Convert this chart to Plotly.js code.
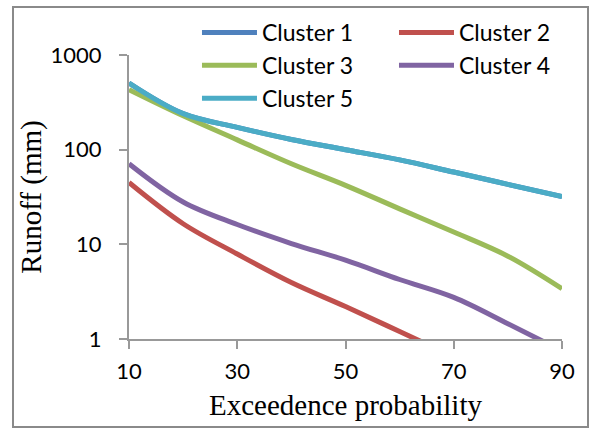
<!DOCTYPE html>
<html>
<head>
<meta charset="utf-8">
<script src="https://cdn.plot.ly/plotly-3.0.1.min.js"></script>
<style>
  html, body { margin: 0; padding: 0; background: #fff; }
  #wrap { position: relative; width: 591px; height: 429px; }
  #chart { position: absolute; left: 0; top: 0; width: 591px; height: 429px; }
  #frame { position: absolute; left: 12px; top: 6px; width: 573px; height: 418px;
           border: 2px solid #8a8a8a; pointer-events: none; }
</style>
</head>
<body>
<div id="wrap"><div id="chart"></div><div id="frame"></div></div>
<script>
// Exceedence probability (%)
const probability = [10, 20, 30, 40, 50, 60, 70, 80, 90];

// Runoff (mm) per cluster
const cluster1 = [505, 240, 172, 128, 100, 78, 58, 43, 32];
const cluster2 = [45, 16.5, 7.9, 3.95, 2.2, 1.2, 0.65];
const cluster3 = [430, 228, 127, 71, 42, 23.7, 13.5, 7.5, 3.4];
const cluster4 = [71, 28, 16.2, 10.2, 6.8, 4.25, 2.75, 1.45, 0.75];
const cluster5 = [505, 240, 172, 128, 100, 78, 58, 43, 32];

const names = ["Cluster 1", "Cluster 2", "Cluster 3", "Cluster 4", "Cluster 5"];
const colors = ["#4F81BD", "#C0504D", "#9BBB59", "#8064A2", "#4BACC6"];
const series = [cluster1, cluster2, cluster3, cluster4, cluster5];
// legend column: odd clusters left, even clusters right
const legendRef = ["legend", "legend2", "legend", "legend2", "legend"];

const traces = series.map((vals, i) => ({
  type: "scatter",
  mode: "lines",
  name: names[i],
  legend: legendRef[i],
  legendgroup: "g" + i,
  x: probability.slice(0, vals.length),
  y: vals,
  line: { color: colors[i], width: 5, shape: "spline", smoothing: 1 },
  hoverinfo: "x+y+name"
}));

const legendFont = { family: "Lato, sans-serif", size: 23, color: "#000" };
const titleFont = { family: "'Liberation Serif', 'Times New Roman', serif", size: 29, color: "#000" };
const tickFont = { family: "Lato, sans-serif", size: 22, color: "#000" };

const layout = {
  width: 591, height: 429,
  margin: { l: 129, r: 29, t: 55, b: 90, pad: 0, autoexpand: false },
  paper_bgcolor: "#fff", plot_bgcolor: "#fff",
  font: { family: "Lato, 'Open Sans', sans-serif", color: "#000", size: 22 },
  xaxis: {
    range: [10, 90], tickvals: [10, 30, 50, 70, 90], ticktext: ["10", "30", "50", "70", "90"],
    showgrid: false, zeroline: false, showline: true, linecolor: "#999", linewidth: 2,
    ticks: "outside", ticklen: 8, tickwidth: 2, tickcolor: "#999", ticklabelstandoff: 4,
    tickfont: tickFont,
    title: { text: "Exceedence probability", standoff: 11, font: titleFont }
  },
  yaxis: {
    type: "log", range: [0, 3], tickvals: [1, 10, 100, 1000], ticktext: ["1", "10", "100", "1000"],
    showgrid: false, zeroline: false, showline: true, linecolor: "#999", linewidth: 2,
    ticks: "outside", ticklen: 8, tickwidth: 2, tickcolor: "#999", ticklabelstandoff: 13,
    tickfont: tickFont,
    title: { text: "Runoff (mm)", standoff: 0, font: titleFont }
  },
  showlegend: true,
  legend: {
    orientation: "v", x: 0.157, y: 1.155, xanchor: "left", yanchor: "top",
    itemwidth: 55, tracegroupgap: 0, font: legendFont,
    bgcolor: "rgba(0,0,0,0)", borderwidth: 0, traceorder: "normal"
  },
  legend2: {
    orientation: "v", x: 0.612, y: 1.155, xanchor: "left", yanchor: "top",
    itemwidth: 55, tracegroupgap: 0, font: legendFont,
    bgcolor: "rgba(0,0,0,0)", borderwidth: 0, traceorder: "normal"
  }
};

Plotly.newPlot("chart", traces, layout, { displayModeBar: false, staticPlot: true });
</script>
</body>
</html>
